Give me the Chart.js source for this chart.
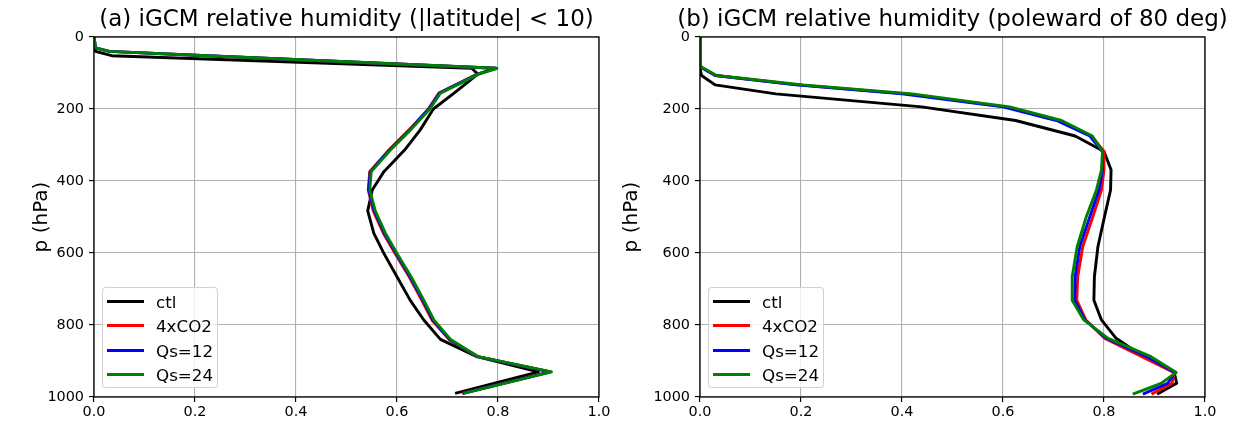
<!DOCTYPE html>
<html>
<head>
<meta charset="utf-8">
<script src="https://cdn.jsdelivr.net/npm/chart.js@4.4.0/dist/chart.umd.min.js"></script>
<style>
  html, body { margin: 0; padding: 0; background: #fff; overflow: hidden; }
  #wrap { position: relative; width: 1245px; height: 431px; overflow: hidden; }
  canvas { position: absolute; top: 0; }
  #chartA { left: 0; }
  #chartB { left: 610px; }
  .legend {
    position: absolute; top: 287px; width: 114px; height: 99px;
    border: 1px solid rgba(204,204,204,0.9); border-radius: 4px;
    background: rgba(255,255,255,0.8);
    font-family: "DejaVu Sans", sans-serif; font-size: 16.7px; color: #000;
  }
  .legend .row { position: absolute; left: 0; height: 20px; width: 114px; }
  .legend .swatch { position: absolute; left: 4px; top: 8px; width: 37px; height: 3px; }
  .legend .lbl { position: absolute; left: 53px; top: 0; line-height: 20px; white-space: nowrap; }
</style>
</head>
<body>
<div id="wrap">
  <canvas id="chartA" width="693" height="431"></canvas>
  <canvas id="chartB" width="685" height="431"></canvas>
  <div class="legend" id="legendA" style="left:102px"></div>
  <div class="legend" id="legendB" style="left:708px"></div>
</div>
<script>
// ── Data ──────────────────────────────────────────────────
const seriesNames = ['ctl', '4xCO2', 'Qs=12', 'Qs=24'];
const xTicks = [0, 0.2, 0.4, 0.6, 0.8, 1.0];
const yTicks = [0, 200, 400, 600, 800, 1000];

// (a) |latitude| < 10
const levelsA = [0, 30, 40, 52, 87, 103, 156, 200, 258, 314, 374, 425, 483, 545, 601, 666, 731, 786, 840, 888, 930, 990];
const ctlA  = [0, 0, 0.003, 0.035, 0.748, 0.760, 0.713, 0.672, 0.646, 0.615, 0.574, 0.551, 0.542, 0.554, 0.574, 0.600, 0.626, 0.653, 0.686, 0.758, 0.880, 0.715];
const co2A  = [0, 0.003, 0.030, 0.222, 0.795, 0.759, 0.683, 0.662, 0.624, 0.584, 0.546, 0.543, 0.553, 0.573, 0.596, 0.624, 0.649, 0.669, 0.703, 0.759, 0.903, 0.729];
const qs12A = [0, 0.003, 0.030, 0.224, 0.796, 0.760, 0.684, 0.663, 0.625, 0.585, 0.547, 0.544, 0.555, 0.575, 0.598, 0.626, 0.651, 0.671, 0.704, 0.760, 0.904, 0.730];
const qs24A = [0, 0.003, 0.030, 0.226, 0.798, 0.762, 0.686, 0.665, 0.627, 0.587, 0.549, 0.546, 0.557, 0.577, 0.600, 0.628, 0.653, 0.673, 0.706, 0.761, 0.906, 0.732];

// (b) poleward of 80 deg
const levelsB = [0, 80, 87, 107, 133, 158, 194, 232, 275, 318, 369, 425, 499, 582, 666, 731, 786, 837, 888, 932, 962, 992];
const ctlB  = [0, 0, 0, 0.003, 0.030, 0.150, 0.439, 0.625, 0.743, 0.800, 0.814, 0.813, 0.801, 0.788, 0.781, 0.780, 0.795, 0.824, 0.878, 0.939, 0.944, 0.905];
const co2B  = [0, 0, 0.006, 0.031, 0.195, 0.410, 0.605, 0.710, 0.775, 0.800, 0.800, 0.795, 0.778, 0.758, 0.748, 0.746, 0.764, 0.801, 0.875, 0.939, 0.935, 0.894];
const qs12B = [0, 0, 0.005, 0.030, 0.190, 0.400, 0.600, 0.706, 0.772, 0.797, 0.797, 0.790, 0.772, 0.752, 0.743, 0.742, 0.762, 0.805, 0.885, 0.941, 0.926, 0.877];
const qs24B = [0, 0, 0.007, 0.033, 0.204, 0.420, 0.613, 0.716, 0.777, 0.797, 0.795, 0.785, 0.765, 0.747, 0.737, 0.737, 0.760, 0.808, 0.893, 0.943, 0.913, 0.857];

// ── Styling ───────────────────────────────────────────────
const colors = ['#000000', '#ff0000', '#0000ff', '#008000'];
const FONT = '"DejaVu Sans", sans-serif';

// matplotlib-style frame on all four sides
const framePlugin = {
    id: 'frame',
    afterDatasetsDraw(chart) {
        const { ctx, chartArea: a } = chart;
        ctx.save();
        ctx.strokeStyle = '#000';
        ctx.lineWidth = 1.3;
        ctx.strokeRect(a.left, a.top, a.right - a.left, a.bottom - a.top);
        ctx.restore();
    },
};

function makeChart(canvasId, legendId, title, levels, series, yAxisWidth, yTitlePad) {
    const datasets = series.map((vals, i) => ({
        label: seriesNames[i],
        data: vals.map((v, k) => ({ x: v, y: levels[k] })),
        borderColor: colors[i],
        backgroundColor: colors[i],
        borderWidth: 2.9,
        borderJoinStyle: 'round',
        pointRadius: 0,
        showLine: true,
        tension: 0,
        order: series.length - 1 - i,
    }));

    const gridOpts = { color: '#b0b0b0', lineWidth: 1.1, tickLength: 5, tickColor: '#000', tickWidth: 1.2 };

    new Chart(document.getElementById(canvasId).getContext('2d'), {
        type: 'scatter',
        data: { datasets },
        options: {
            responsive: false,
            animation: false,
            layout: { padding: 0 },
            plugins: {
                legend: { display: false },
                tooltip: { enabled: false },
                title: {
                    display: true,
                    text: title,
                    color: '#000',
                    font: { family: FONT, size: 23, weight: 'normal' },
                    padding: { top: 6, bottom: 3.4 },
                },
            },
            scales: {
                x: {
                    type: 'linear', min: 0, max: 1,
                    afterFit: s => { s.height = 34; },
                    afterBuildTicks: s => { s.ticks = xTicks.map(v => ({ value: v })); },
                    ticks: {
                        color: '#000', padding: 2,
                        font: { family: FONT, size: 14.4 },
                        callback: v => v.toFixed(1),
                    },
                    grid: gridOpts,
                    border: { display: false },
                },
                y: {
                    type: 'linear', min: 0, max: 1000, reverse: true,
                    afterFit: s => { s.width = yAxisWidth; },
                    afterBuildTicks: s => { s.ticks = yTicks.map(v => ({ value: v })); },
                    ticks: {
                        color: '#000', padding: 5,
                        font: { family: FONT, size: 14.4 },
                        callback: v => String(v),
                    },
                    grid: gridOpts,
                    border: { display: false },
                    title: {
                        display: true,
                        text: 'p (hPa)',
                        color: '#000',
                        font: { family: FONT, size: 20 },
                        padding: { top: yTitlePad, bottom: 0 },
                    },
                },
                // empty right-hand box so the title centres over the axes
                yPad: {
                    type: 'linear', position: 'right', min: 0, max: 1,
                    afterFit: s => { s.width = yAxisWidth; },
                    ticks: { display: false },
                    grid: { display: false, drawTicks: false },
                    border: { display: false },
                },
            },
        },
        plugins: [framePlugin],
    });

    // legend box in the lower-left corner of the axes
    const box = document.getElementById(legendId);
    seriesNames.forEach((name, i) => {
        const row = document.createElement('div');
        row.className = 'row';
        row.style.top = (4 + i * 24.3) + 'px';
        row.innerHTML = `<span class="swatch" style="background:${colors[i]}"></span><span class="lbl">${name}</span>`;
        box.appendChild(row);
    });
}

makeChart('chartA', 'legendA', '(a) iGCM relative humidity (|latitude| < 10)',
    levelsA, [ctlA, co2A, qs12A, qs24A], 94, 30);
makeChart('chartB', 'legendB', '(b) iGCM relative humidity (poleward of 80 deg)',
    levelsB, [ctlB, co2B, qs12B, qs24B], 90, 10);
</script>
</body>
</html>
